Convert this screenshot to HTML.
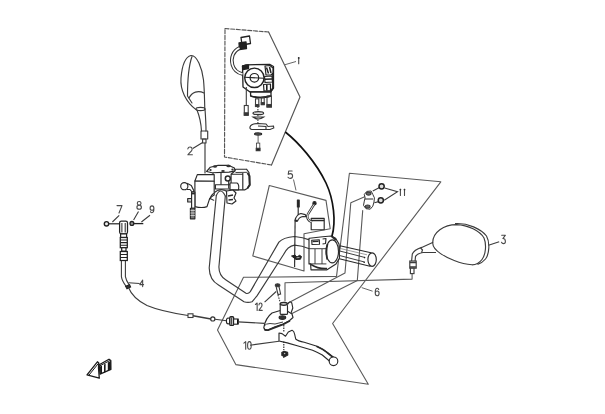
<!DOCTYPE html>
<html><head><meta charset="utf-8">
<style>
html,body{margin:0;padding:0;background:#fff;width:605px;height:414px;overflow:hidden}
svg{display:block;filter:grayscale(1)}
text{font-family:"Liberation Sans",sans-serif;font-size:10.5px;fill:#555;-webkit-font-smoothing:antialiased}
</style></head><body>
<svg width="605" height="414" viewBox="0 0 605 414">
<g fill="none" stroke="#3c3c3c" stroke-width="1.15" stroke-linejoin="round" stroke-linecap="round">
<!-- polygon 1 dashed -->
<path d="M225,28.5 L268.6,32" stroke="#555" stroke-dasharray="4 1.7"/>
<path d="M268.6,32 L300,97 L271.5,165" stroke="#555"/>
<path d="M271.5,165 L224.5,157 L225,28.5" stroke="#555" stroke-dasharray="4 1.7"/>
<!-- polygon 5 -->
<path d="M269.3,185.5 L326,200.4 L330.2,228.7 L304,233.8 L304,271 L252.8,256 Z" stroke="#5a5a5a" stroke-width="1.1"/>
<!-- polygon 6 -->
<path d="M349.4,173.3 L440.8,181.8 L332.6,323.5 L368.3,384.3 L235.8,364.6 L217.5,330 L243.5,277.3 L336.5,276.4 Z" stroke="#5a5a5a" stroke-width="1.1"/>
<!-- handlebar tube -->
<path d="M216.3,195.5 L209.2,268 Q209.5,280 218.5,285 L244,301.8 Q248,303 252,301.8 L257,295.9 L283.4,254.8 Q287.5,246 294.6,245.1 Q302,245.5 309.4,248.8"/>
<path d="M225.3,196.1 L218.9,267 Q219,276 226,280 L246,293.3 Q248.5,294 250.3,291.6 L278.9,242.1 Q283,237.5 294.6,236.5 Q303,237.5 309.4,239.9"/>
<path d="M216.3,195.5 Q220.6,186.3 225.3,196.1"/>
<path d="M213.7,193.2 Q221,186.5 228.5,192.5"/>
<path d="M208.5,197.8 L213.7,200.2"/>
<!-- assembly lines from bracket 11 -->
<path d="M364.7,196.7 L350.8,202.7 L345,273 L288.6,302.7" stroke="#5a5a5a" stroke-width="1.1"/>
<path d="M362.7,210.6 L357.3,280.6 L290.5,314.3" stroke="#5a5a5a" stroke-width="1.1"/>
<!-- mirror base line -->
<path d="M412.1,273.6 L412.1,279.1 L285,282.8 L285,301" stroke="#5a5a5a" stroke-width="1.1"/>
<!-- poly5 screw line -->

<!-- left mirror -->
<path d="M196,109.6 C186,102 180,90 181,78 C182,66 185,57 191,55.5 C197,55 202,68 203.5,80 C204.5,90 204.5,100 204.8,108.8"/>
<path d="M192,56.5 C189,65 187.5,80 187.5,96 L192,103"/>
<path d="M189,98 C192,92 198,90 204,93"/>
<ellipse cx="200.5" cy="109" rx="4.5" ry="1.6"/>
<path d="M197,110 C199,115 201,122 201.5,131"/>
<path d="M205,109 C205.5,116 206,124 206,131"/>
<rect x="201" y="131" width="6.7" height="8"/>
<rect x="202.6" y="139" width="3.4" height="4"/>
<path d="M205,143 L205,173"/>
<path d="M193.2,148.3 L202.6,142.6"/>
</g>



<!-- poly5 parts -->
<g fill="none" stroke="#2a2a2a" stroke-width="1.15" stroke-linejoin="round">
<path d="M298.2,206 L298.2,218.4"/>
<rect x="297.4" y="200" width="1.8" height="7" fill="#222"/>
<path d="M294.9,220.5 Q296.5,214.5 300.9,213.5 L305.2,214.6 L306.3,216.7 L303,216.5 Q299,217 297.5,221 Z" fill="#fff"/>
<path d="M294.9,220.5 L297.5,221" stroke-width="1.8"/>
<path d="M295.1,221 L294.6,267"/>
<path d="M291.5,256 L295,255.2 L297,257 L299.5,255.3 L301.5,256.5 L300.5,259.2 L296,259.5 Z" fill="#222" stroke="#222" stroke-width="1"/>
<path d="M296.5,257.8 L299.5,257.5" stroke="#ccc" stroke-width="0.8"/>
<circle cx="314.5" cy="203.2" r="1.6" fill="#222"/>
<rect x="311.2" y="218.4" width="13" height="11.4" fill="#fff"/>
<path d="M311.2,220.5 L324.2,220.5" stroke-width="1.5"/>
</g>
<path d="M314,204.5 L308,214 Q306,218 309.6,221 L312,222" fill="none" stroke="#333" stroke-width="2.4"/>
<path d="M314,204.5 L308,214 Q306,218 309.6,221 L312,222" fill="none" stroke="#fff" stroke-width="0.9"/>

<!-- right switch housing & grip -->
<g fill="#fff" stroke="#2a2a2a" stroke-width="1.15" stroke-linejoin="round">
<path d="M339.9,245.8 L371,252.8 L370,266.2 L338.3,258.5 Z" fill="none"/>
<path d="M339,250.8 L365,257.5 M338.8,255.3 L364.5,262" fill="none" stroke-width="0.9"/>
<path d="M339.5,248.3 L367,254.8" fill="none" stroke-width="0.7" stroke="#777"/>
<ellipse cx="372.1" cy="259.6" rx="4.2" ry="6.8"/>
<circle cx="339" cy="250.8" r="0.9" fill="#222" stroke="none"/><circle cx="338.6" cy="255.3" r="0.9" fill="#222" stroke="none"/>
<circle cx="364.6" cy="257.6" r="0.8" fill="#222" stroke="none"/><circle cx="364.2" cy="262.2" r="0.8" fill="#222" stroke="none"/>
<path d="M309.5,238.3 L322.6,236.7 L331.3,236 L335.6,238.3 L339,244 L339.5,258 L336,264 L327,269.8 L311,269.8 L310.6,263.9 L309,263.9 L309,238.3 Z"/>
<path d="M309,248.7 L326.4,248.7 M315,249 L315,263.9 M322,249 L322,263.9 M309.5,263.9 L326.4,263.9" fill="none" stroke-width="0.9"/>
<path d="M311,264.5 Q318,269 327,268.5" fill="none" stroke-width="1.5"/>
<path d="M311.7,240.2 L319.3,239.8 L319.5,244.3 L312,244.5 Z" />
<path d="M312.5,241.5 L318.5,241.3" fill="none" stroke-width="1.3"/>
<path d="M322.6,239 L326,238.5 L325.5,243.5 L322.5,244" fill="none"/>
<ellipse cx="332.3" cy="251.4" rx="6.2" ry="11.5"/>
<path d="M327.5,244 Q325.5,251 327.3,259.5" fill="none" stroke-width="1.8"/>
<path d="M331.3,236 L336,240" fill="none" stroke-width="1.8"/>
</g>
<!-- bracket 11 -->
<g fill="none" stroke="#3c3c3c" stroke-width="1.1">
<path d="M372.8,191 L379.5,187.6 M374.4,202.8 L378.7,201.6"/>
<path d="M384.6,188 L397.5,191.8 L384.2,200.3"/>
<path d="M364.3,194.4 L366.8,191.4 L371.1,191 L372.8,194.4 L374.4,197.8 L374,202 L372.8,206.2 L370.2,209.2 L366,208.7 L363.5,205.4 L364.3,201.1 L365.1,197.8 Z" fill="#fff" stroke="#333" stroke-width="1"/>
<ellipse cx="368.6" cy="193.6" rx="2.4" ry="1.5" fill="#666"/>
<ellipse cx="367.7" cy="206.5" rx="2.4" ry="1.5" fill="#666"/>
<path d="M365,199 L373,199" />
<circle cx="381.6" cy="186.3" r="2.6" fill="#ddd" stroke="#222" stroke-width="1.5"/>
<circle cx="380.8" cy="200.3" r="2.6" fill="#ddd" stroke="#222" stroke-width="1.5"/>
</g>

<!-- right mirror -->
<g fill="none" stroke="#3c3c3c" stroke-width="1.15">
<path d="M432.7,243 C432.5,232 444,224.6 456.6,224.6 C468,225 480,231 484,238 C486.5,244 486,254 482,259.5 C479,263.5 476,264.8 472,264.8 C460,264 447,258 440.6,253.6 C436,250.5 432.8,247 432.7,243 Z"/>
<path d="M455,223.6 C468,222.8 481,229 486.5,236 C490,242 489.5,254 485.5,259 C483,262 481,263.5 477.5,264.4"/>
<path d="M433.2,242.2 L421.7,247.4 Q414,250 412.3,254 L411.6,261"/>
<path d="M436,252.5 L423,252.5 Q417,253.5 415.5,256.5 L415.1,261"/>
<path d="M420.5,247.8 L422.5,250 L421.5,252.7"/>
<rect x="409.8" y="261" width="6.4" height="7.2" fill="#fff"/>
<path d="M409.8,262.5 L416.2,262.5 M409.8,267 L416.2,267" stroke-width="1.4"/>
<rect x="410.4" y="268.2" width="3.6" height="5.4" fill="#fff"/>
<path d="M488.5,245.2 L499.2,241.7"/>
</g>

<!-- lever bracket 12 & lever 10 -->
<g fill="#fff" stroke="#2a2a2a" stroke-width="1.15" stroke-linejoin="round">
<path d="M263.8,327.5 Q265.5,318 272,313 L280.2,310.5 L288,311.5 L292,314 L293,317.5 L289,321 L283,324 L274.4,327 L267.7,330.2 Q264.5,330.5 263.8,327.5 Z"/>
<path d="M264,326 Q266,323.5 270,323.5 L275,324 L283,322" fill="none" stroke-width="0.9"/>
<path d="M264.5,329.8 L268,330.2 L283,324.5 L290,320.8" fill="none" stroke-width="1.8"/>
<rect x="280.2" y="303.2" width="7.3" height="11.2" rx="1"/>
<ellipse cx="283.8" cy="303.8" rx="3.6" ry="1.4" stroke-width="1.5"/>
<path d="M287.5,304.5 Q289.5,300.5 291.8,303 L292.8,308 L291,313" />
<ellipse cx="282.4" cy="317.5" rx="3.3" ry="1.8" fill="#333"/>
<path d="M279,333 L282,333.6 L285.5,336.2 L288.3,332 L292.1,330.3 Q294,331 294.6,334 L295.7,339 Q298,341 304.2,342.3 L316.2,346 Q322,348.5 325.9,351.4 L334,358 L330,361.5 L322.3,355 Q318,352.5 312.6,350.2 L298.1,346 L287.2,342.9 L279,341 Z"/>
<path d="M316.5,346.2 Q323,349 327,352.5 L334,358" fill="none" stroke-width="1.6"/>
<circle cx="333.5" cy="361.3" r="4.3"/>
<path d="M283.8,325 L283.8,332 M283.8,341.5 L283.8,350" fill="none" stroke-dasharray="1.5 1"/>
<path d="M281.8,352.5 L284,351.2 L287.6,352.2 L287.8,355 L285,356.6 L282,355.5 Z" fill="#222"/>
<circle cx="284.6" cy="353.6" r="0.8" fill="#bbb" stroke="none"/>
<path d="M281.5,355 L286,355" fill="none"/>
<path d="M283.8,355 L283.8,358" fill="none"/>
</g>
<g fill="none" stroke="#3c3c3c" stroke-width="1.1">
<path d="M250,345.2 L279,341.3"/>
<!-- screw 12 -->
<ellipse cx="277.6" cy="285.2" rx="2.3" ry="1.5" fill="#333"/>
<path d="M276.2,287 L278,294.5 L280.6,294 L279,286.6"/>
<path d="M276.2,291.5 L264.6,302.2"/>
<path d="M278,295 L280,301.8" stroke-dasharray="1.5 1"/>
</g>

<!-- clutch cable 4 -->
<g fill="none" stroke="#3c3c3c" stroke-width="1.1">
<path d="M121.4,260.5 L121.4,276.7 Q122,281 126.2,286.5"/>
<path d="M125.4,260.5 L125.4,276.7 Q126,280.5 129.5,285.5"/>
<path d="M125.6,286.2 L129.6,284.8 L130.6,287 L127,288.8 Z" fill="#333" stroke="#222"/>
<path d="M128.5,287.5 C131,294 137,300.5 147,305.5 C160,311 175,313.5 188,315.5"/>
<rect x="188" y="313.8" width="5" height="3.7" fill="#fff"/>
<path d="M193,315.7 L211,319" stroke-width="1.4"/>
<circle cx="212.8" cy="318.9" r="2.1" fill="#fff" stroke="#333" stroke-width="1.2"/>
<path d="M215,319.3 L226.5,320.8"/>
<ellipse cx="228.2" cy="321" rx="1.8" ry="3" fill="#fff" stroke="#222" stroke-width="1.1"/>
<rect x="229.8" y="316.8" width="3.8" height="8.6" rx="1" fill="#fff" stroke="#222" stroke-width="1.4"/>
<path d="M231.7,317.5 L231.7,324.8" stroke="#222" stroke-width="1"/>
<rect x="233.6" y="319" width="4.5" height="5.2" fill="#fff" stroke="#222" stroke-width="1.1"/>
<path d="M237.8,319.2 L237.8,324" stroke="#111" stroke-width="1.6"/>
<path d="M238.1,321.9 L264.5,323.4"/>
<path d="M128.5,282.8 L139.7,283.5"/>
<!-- fitting -->
<g stroke="#222" stroke-width="1.25">
<rect x="119.6" y="221" width="7.9" height="12.9" rx="1.8" fill="#fff"/>
<path d="M121.9,223 L121.9,232.5 M125.2,223 L125.2,232.5" stroke-width="1"/>
<rect x="120.6" y="233.9" width="6" height="3.6" fill="#fff"/>
<rect x="120.3" y="237.5" width="7" height="10.2" fill="#fff"/>
<path d="M120.3,240 L127.3,240 M120.3,242.6 L127.3,242.6 M120.3,245.2 L127.3,245.2" stroke-width="1.1"/>
<rect x="121.7" y="247.7" width="4.3" height="3.5" fill="#fff"/>
<rect x="120.3" y="251.5" width="7" height="9" fill="#fff"/>
<path d="M120.3,254.5 L127.3,254.5 M120.3,257.5 L127.3,257.5" stroke-width="1.1"/>
<circle cx="106.5" cy="223.8" r="2.2" fill="#eee" stroke-width="1.4"/>
<path d="M108.7,223.8 L119.6,223.8" stroke-width="1.2"/>
<circle cx="131.9" cy="223.4" r="1.9" fill="#999" stroke-width="1.3"/>
<path d="M134,223.6 L143.3,223.6" stroke-width="1.3"/>
</g>
<path d="M112.4,222 L119.2,215.3 M133.6,220.1 L138.5,211.4 M141.4,222 L150,215.3"/>
</g>

<!-- arrow icon -->
<g fill="#fff" stroke="#1a1a1a" stroke-width="1.3" stroke-linejoin="round">
<path d="M99.2,364.8 L109,359.2 L110.8,360.6 L110.9,369.4 L100,374.2 Z"/>
<path d="M87,374.8 L97.4,361.8 L98.8,363 L98.5,368 L99.3,378.2 Z"/>
<path d="M88.6,375.6 L98.6,363.2" stroke-width="1"/>
<path d="M99.5,366 L109.8,360.6" stroke-width="1"/>
</g>
<g fill="#1a1a1a">
<path d="M100,366.5 L102,365.6 L102,373.5 L100.2,374.2 Z"/>
<path d="M104,364.6 L105.6,363.8 L105.6,372 L104,372.7 Z"/>
<path d="M107.8,362.6 L110.8,361 L110.9,369.4 L107.8,370.7 Z"/>
</g>
<!-- labels -->
<g fill="none" stroke="#555" stroke-width="0.9">
<path d="M285,64.7 L296,61.5"/>
<path d="M293.5,179.5 L296,190.4"/>
<path d="M361.7,287.6 L372.6,291.2"/>
</g>

<!-- master cylinder -->
<g fill="#fff" stroke="#2a2a2a" stroke-width="1.15" stroke-linejoin="round">
<path d="M231.1,174.2 L234.5,171.2 L235.5,169.3 L246.5,169.2 L249,172.5 L249.5,184.5 L248,188 L245,189.8 L231.1,189.8 Z"/>
<path d="M235.5,172.5 L247.5,172.3" fill="none" stroke-width="0.9"/>
<path d="M242.8,173 L242.8,189.8 M231.1,174.2 L242.8,174.2" fill="none"/>
<path d="M247.5,173 L249.5,176 L249.8,185 L247.5,188" fill="none" stroke-width="2"/>
<path d="M215.4,184.7 L231.1,184.7 L231.1,189 L215.4,189 Z"/>
<path d="M230,183 L237,183 Q239.5,184.5 238.5,189.8 L230,189.8 Z" />
<path d="M226.5,191 L233,190 L236,193 L234,198 L236,201 L232,204 L227,203 Z"/>
<path d="M228,196 L233,195 M228.5,200 L233,199.5" fill="none" stroke-width="1.6"/>
<path d="M228.7,181 L228.7,188.4" fill="none"/>
<circle cx="227.8" cy="178.5" r="2.5" stroke-width="1.5"/>
<path d="M206.6,171.5 L210.3,167.2 L218.1,165.4 L229,165.4 L234.4,167.9 L235,170.9 L229,172.1 L212.1,172.7 Z"/>
<path d="M213,173 L213,176 M221,172.5 L221,184.7" fill="none"/>
<path d="M197.3,174.6 L214.2,174.6 L214.2,181.3 L194.9,181 Z"/>
<path d="M194.9,181 L214.2,181.3 L214.2,195 Q211,196.5 209.4,199.4 L207,206.6 Q202,208.5 194.9,206.6 Z"/>
<path d="M209.4,199.4 Q211,195 213.7,193.2" fill="none"/>
<path d="M187,183.3 L191.3,185.5 L194,191 L192.5,192.5 L190,189.5 L187,189.5" />
<circle cx="184.3" cy="186.2" r="3.6"/>
<path d="M187.7,198.5 L191.6,198.5 L191.6,202 L187.7,202 Z" fill="#ccc"/>
<rect x="191.6" y="192" width="3.3" height="16.2"/>
<path d="M191.6,193.5 L194.9,193.5" stroke-width="1.8"/>
<rect x="190.4" y="208.2" width="4.5" height="10.6" fill="#777"/>
<path d="M190.4,210.5 L194.9,210.5 M190.4,213 L194.9,213 M190.4,215.5 L194.9,215.5" stroke="#fff" stroke-width="0.6"/>
</g>
<g fill="#333">
<ellipse cx="215" cy="166.5" rx="2" ry="1.2"/><ellipse cx="228.5" cy="166" rx="2.2" ry="1.2"/><ellipse cx="223" cy="171" rx="1.8" ry="1.1"/><ellipse cx="232.5" cy="169.5" rx="1.2" ry="0.9"/><ellipse cx="210.5" cy="170" rx="1.2" ry="0.9"/>
</g>
<!-- switch assembly poly1 -->
<g fill="none" stroke="#222" stroke-width="1.3" stroke-linejoin="round">
<path d="M242.5,66 L246,64.8 L270,64.5 L273.5,66.5 L273.5,88 L270.5,92 L250,92 L243,87 Z" fill="#fff"/>
<path d="M242.5,66 L248.5,64.8 L248.5,68.5 L243,69.5 Z" fill="#222"/>
<circle cx="254.4" cy="77.8" r="9.7" fill="#fff" stroke-width="1.4"/>
<circle cx="254.4" cy="77.8" r="4.3" stroke-width="1.2"/>
<path d="M244.8,77.2 L264,78.3" stroke-width="1.1"/>
<path d="M265,66 L270,65.5 L273,68 L273,73 L271,75 L266,75 Z" fill="#fff" stroke-width="1.2"/>
<path d="M266.5,67.5 L268.5,73.5 M269.5,67 L271,73" stroke-width="1.5"/>
<path d="M264.5,76.5 L272,76 L272.5,82 L265,82.5 Z" fill="#fff" stroke-width="1.2"/>
<path d="M265,79.3 L272,79" stroke-width="1.6"/>
<path d="M263.5,84.5 L270.5,84 L270.5,90.5 L264,91 Z" fill="#fff" stroke-width="1.2"/>
<path d="M266.8,84.5 L266.8,90.5" stroke-width="1.6"/>
<path d="M273,73 L273,88 L270.5,91.5" stroke-width="1.8"/>
<path d="M250.6,92 L271,92 L271,96 Q260,99 250.6,96 Z" fill="#fff"/>
<path d="M250.6,96 Q260,99 271,96" stroke-width="1.7"/>
<!-- connector and wire -->
<path d="M241,37.5 L249.5,36 L250.5,43.5 L242,45 Z" fill="#fff"/>
<path d="M239,43 L246,42 L246.5,48.5 L239.5,49.5 Z" fill="#222"/>
</g>
<path d="M239.5,48 C233,51 230.5,58 232.5,65 C234,70 238,73 242.5,74" fill="none" stroke="#333" stroke-width="3.6"/>
<path d="M239.5,48 C233,51 230.5,58 232.5,65 C234,70 238,73 242.5,74" fill="none" stroke="#fff" stroke-width="1.6"/>
<g fill="none" stroke="#3c3c3c" stroke-width="1.1">
<path d="M246.3,87 L246.3,105.5"/>
<rect x="244.3" y="105.5" width="3.9" height="9.7" fill="#fff"/>
<rect x="244.3" y="112.8" width="3.9" height="2.4" fill="#333"/>
<rect x="255.5" y="98.8" width="3.3" height="7.7"/>
<rect x="255.5" y="104.6" width="3.3" height="1.9" fill="#333"/>
<rect x="261.3" y="97.8" width="2.9" height="6.8"/>
<rect x="261.3" y="102.6" width="2.9" height="2" fill="#333"/>
<rect x="267" y="96" width="4.4" height="11"/>
<rect x="267" y="104.5" width="4.4" height="2.5" fill="#333"/>
<path d="M257.9,106.5 L257.9,111.8 M257.9,114.7 L257.9,116.6 M257.9,119.5 L257.9,123.4" stroke-dasharray="1.5 1"/>
<ellipse cx="258.3" cy="113.2" rx="5.3" ry="1.5" fill="#ddd" stroke="#333" stroke-width="1.2"/>
<path d="M253,117 L263.7,117 Q258.3,121 253,117 Z" fill="#ddd" stroke="#333" stroke-width="1.2"/>
<path d="M250,127 Q251,123.5 258,123.5 L266,124 L268,126.5 L273.5,126 L273.8,128 L270,129.5 L252,129.5 Q249.5,129 250,127 Z" fill="#fff" stroke="#333" stroke-width="1.1"/>
<path d="M258,126 L266,126.5 L266,129" stroke="#333"/>
<ellipse cx="258.1" cy="134" rx="3.6" ry="1.1" fill="#666" stroke="#222" stroke-width="1.1"/>
<path d="M258.1,135.2 L258.1,143.1" stroke-width="0.8"/>
<rect x="256.4" y="143.1" width="3.4" height="7.4" fill="#fff" stroke-width="0.8"/>
<rect x="256.2" y="148.3" width="3.8" height="2.4" fill="#222"/>
</g>

<!-- black cable -->
<path d="M285.3,132 C298,142 316,162 326,183 C334,200 336,222 332,236" fill="none" stroke="#111" stroke-width="1.7"/>
<g class="lbl" fill="none" stroke="#4a4a4a" stroke-width="1.1" stroke-linecap="round" stroke-linejoin="round">
<path d="M400.4,189.2 L400.4,195.4 M404.5,189.2 L404.5,195.4"/>
<circle cx="400.4" cy="189.6" r="0.9" fill="#333" stroke="none"/><circle cx="404.5" cy="189.6" r="0.9" fill="#333" stroke="none"/>
<path d="M298.7,57.6 L298.7,63.8"/>
<circle cx="298.7" cy="58" r="0.9" fill="#333" stroke="none"/>
<path d="M187.84,148.95 C188.08,147.39 189.04,147.00 190.00,147.00 C191.44,147.00 192.16,148.17 192.16,149.34 C192.16,150.90 190.96,151.68 189.52,152.85 L187.84,154.80 L192.40,154.80"/>
<path d="M501.69,235.20 L505.40,235.20 L502.87,238.56 C504.62,238.56 505.40,240.07 505.40,241.42 C505.40,242.93 504.62,243.60 503.45,243.60 C502.67,243.60 501.89,243.18 501.50,242.34"/>
<path d="M142.65,286.60 L142.65,280.00 L139.80,284.62 L143.60,284.62"/>
<path d="M292.14,171.00 L288.69,171.00 L288.23,174.33 C288.92,173.81 289.61,173.66 290.30,173.66 C291.68,173.66 292.60,174.70 292.60,176.03 C292.60,177.66 291.68,178.40 290.30,178.40 C289.38,178.40 288.46,178.03 288.00,177.29"/>
<path d="M378.71,289.41 C378.32,288.52 377.74,288.30 377.15,288.30 C375.78,288.30 375.20,290.52 375.20,292.74 C375.20,294.81 375.98,295.70 377.15,295.70 C378.32,295.70 379.10,294.59 379.10,293.18 C379.10,291.78 378.32,290.96 377.23,290.96 C376.18,290.96 375.39,291.85 375.28,292.89"/>
<path d="M117.00,205.60 L122.00,205.60 L119.00,213.00"/>
<path d="M139.15,205.09 C137.80,205.09 137.26,204.31 137.26,203.29 C137.26,202.12 138.03,201.50 139.15,201.50 C140.28,201.50 141.04,202.12 141.04,203.29 C141.04,204.31 140.50,205.09 139.15,205.09 C137.80,205.09 136.90,206.02 136.90,207.27 C136.90,208.52 137.80,209.30 139.15,209.30 C140.50,209.30 141.40,208.52 141.40,207.27 C141.40,206.02 140.50,205.09 139.15,205.09 Z"/>
<path d="M153.82,208.48 C153.71,209.44 152.95,210.25 151.92,210.25 C150.86,210.25 150.10,209.50 150.10,208.21 C150.10,206.92 150.86,205.90 152.00,205.90 C153.14,205.90 153.90,206.72 153.90,208.62 C153.90,210.66 153.33,212.70 152.00,212.70 C151.43,212.70 150.86,212.50 150.48,211.68"/>
<path d="M243.90,343.12 L245.70,341.60 L245.70,349.20"/>
<path d="M249.40,341.60 C250.66,341.60 251.20,343.50 251.20,345.40 C251.20,347.30 250.66,349.20 249.40,349.20 C248.14,349.20 247.60,347.30 247.60,345.40 C247.60,343.50 248.14,341.60 249.40,341.60 Z"/>
<path d="M255.45,304.48 L257.15,303.00 L257.15,310.40"/>
<path d="M258.97,304.85 C259.14,303.37 259.82,303.00 260.50,303.00 C261.52,303.00 262.03,304.11 262.03,305.22 C262.03,306.70 261.18,307.44 260.16,308.55 L258.97,310.40 L262.20,310.40"/>
</g>
</svg>
</body></html>
